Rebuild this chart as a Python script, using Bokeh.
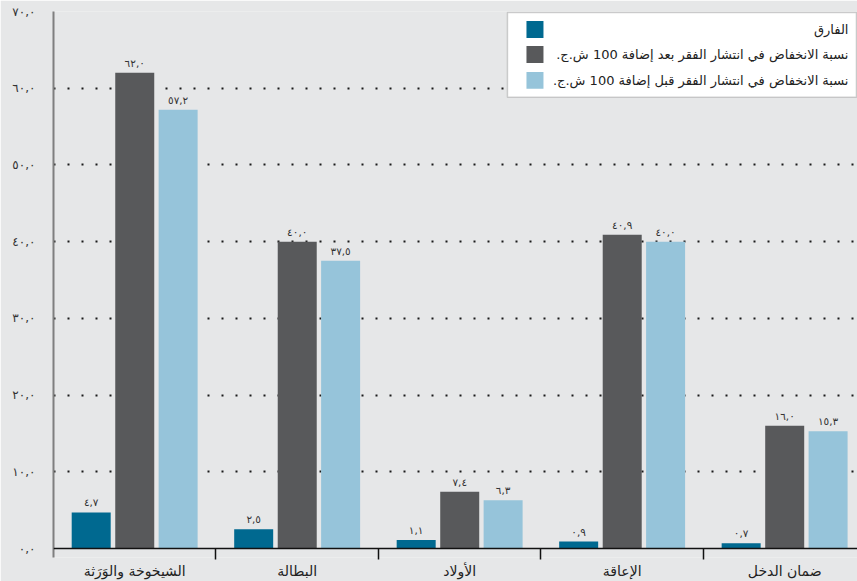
from bokeh.plotting import figure
from bokeh.models import (Range1d, FixedTicker, Span, BoxAnnotation, Label, ColumnDataSource)
from bokeh.core.properties import value
from bokeh.embed import file_html
from bokeh.resources import INLINE

# ---- data ----
categories = ["الشيخوخة والوَرَثة", "البطالة", "الأولاد", "الإعاقة", "ضمان الدخل"]
diff_vals = [4.7, 2.5, 1.1, 0.9, 0.7]
after_vals = [62.0, 40.0, 7.4, 40.9, 16.0]
before_vals = [57.2, 37.5, 6.3, 40.0, 15.3]
series_names = [
    "الفارق",
    "نسبة الانخفاض في انتشار الفقر بعد إضافة 100 ش.ج.",
    "نسبة الانخفاض في انتشار الفقر قبل إضافة 100 ش.ج.",
]
y_ticks = [0, 10, 20, 30, 40, 50, 60, 70]

colors = ["#006990", "#58595b", "#96c4da"]
BG = "#e6e7e8"
FONT = "DejaVu Sans"

AR = str.maketrans("0123456789.", "٠١٢٣٤٥٦٧٨٩,")


def ar_num(v):
    return ("%.1f" % v).translate(AR)


RLM = "\u200f"

p = figure(width=857, height=581, output_backend="svg", toolbar_location=None,
           x_range=Range1d(0, 4.948), y_range=Range1d(-1.17, 70),
           min_border_left=53, min_border_right=0, min_border_top=11, min_border_bottom=23,
           background_fill_color=BG, border_fill_color=BG, outline_line_color=None)

offsets = [-0.268, 0.0, 0.267]
bw = 0.24
all_series = [diff_vals, after_vals, before_vals]
for s, vals in enumerate(all_series):
    xs = [i + 0.5 + offsets[s] for i in range(len(categories))]
    src = ColumnDataSource(dict(x=xs, top=vals, lab=[ar_num(v) for v in vals]))
    p.vbar(x="x", top="top", bottom=0, width=bw, source=src, fill_color=colors[s], line_color=None)
    p.text(x="x", y="top", text="lab", source=src, text_align="center", text_baseline="bottom",
           y_offset=-4, text_font=value(FONT), text_font_size="10.5px", text_color="#333333")

# zero line
p.add_layout(Span(location=0, dimension="width", line_color="#111111", line_width=1.5))

# y axis
yaxis = p.yaxis[0]
yaxis.ticker = FixedTicker(ticks=y_ticks)
yaxis.major_label_overrides = {t: ar_num(t) for t in y_ticks}
yaxis.axis_line_color = "#7f7f7f"
yaxis.axis_line_width = 2
yaxis.major_tick_line_color = None
yaxis.minor_tick_line_color = None
yaxis.major_label_standoff = 12
yaxis.major_label_text_font = FONT
yaxis.major_label_text_font_size = "12px"
yaxis.major_label_text_color = "#333333"

# x axis
centers = [i + 0.5 for i in range(len(categories))]
xaxis = p.xaxis[0]
xaxis.ticker = FixedTicker(ticks=centers, minor_ticks=[1, 2, 3, 4])
xaxis.major_label_overrides = {c: n for c, n in zip(centers, categories)}
xaxis.axis_line_color = None
xaxis.major_tick_line_color = None
xaxis.major_tick_out = 0
xaxis.major_tick_in = 0
xaxis.minor_tick_line_color = "#111111"
xaxis.minor_tick_line_width = 1.5
xaxis.minor_tick_in = 9
xaxis.minor_tick_out = 2
xaxis.major_label_standoff = 3
xaxis.major_label_text_font = FONT
xaxis.major_label_text_font_size = "14px"
xaxis.major_label_text_line_height = 0.9
xaxis.major_label_text_color = "#222222"

# grid
p.xgrid.grid_line_color = None
p.ygrid.ticker = FixedTicker(ticks=y_ticks[1:])
p.ygrid.grid_line_color = "#1a1a1a"
p.ygrid.grid_line_width = 2
p.ygrid.grid_line_dash = "2 12"


# legend (custom, right-aligned text like the original)
def dx(px):
    return (px - 53) / 162.5


def dy(py):
    return (549 - py) / 7.6857


p.add_layout(BoxAnnotation(left=dx(507), right=dx(856), top=dy(12), bottom=dy(97),
                           fill_color="white", fill_alpha=1, line_color="#6d6d6d", line_width=1.5,
                           level="overlay"))
rows = [29, 54, 80]
for s in range(3):
    cy = rows[s]
    p.add_layout(BoxAnnotation(left=dx(526), right=dx(543), top=dy(cy - 8.5), bottom=dy(cy + 8.5),
                               fill_color=colors[s], fill_alpha=1, line_color=None, level="overlay"))
    p.add_layout(Label(x=dx(848), y=dy(cy), text=series_names[s] + RLM, text_align="right",
                       text_baseline="middle", text_font=FONT, text_font_size="13px",
                       text_color="#222222", level="overlay"))

open("out.html", "w").write(file_html(p, INLINE))
